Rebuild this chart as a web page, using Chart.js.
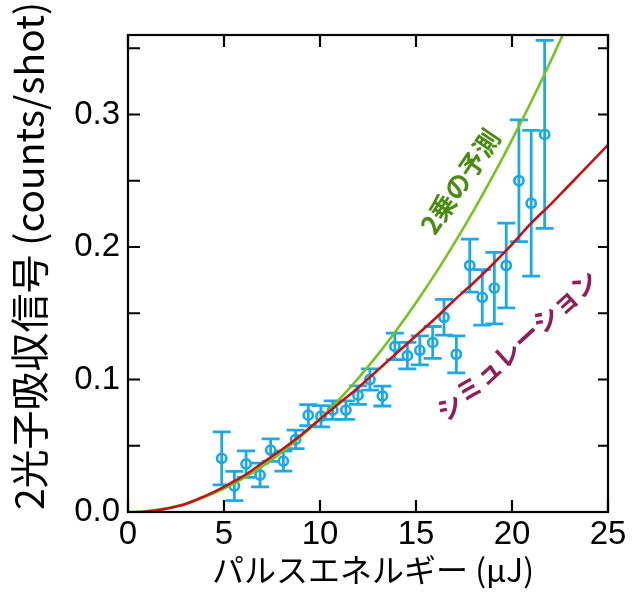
<!DOCTYPE html>
<html>
<head>
<meta charset="utf-8">
<script src="https://cdn.jsdelivr.net/npm/chart.js@4"></script>
<style>
    html, body { margin: 0; padding: 0; background: #fff; }
    canvas { display: block; }
</style>
</head>
<body>
<canvas id="chart" width="640" height="602"></canvas>
<script>
// measured points (pulse energy in uJ, signal in counts/shot, +/- error)
const energy = [4.88, 5.54, 6.15, 6.88, 7.43, 8.09, 8.73, 9.39, 10.05, 10.66, 11.35, 11.98, 12.6, 13.25,
    13.9, 14.55, 15.2, 15.87, 16.46, 17.1, 17.8, 18.45, 19.08, 19.7, 20.36, 21.0, 21.7];
const signal = [0.0405, 0.0196, 0.0362, 0.0279, 0.0467, 0.0384, 0.0548, 0.0731, 0.0723, 0.0769, 0.0769, 0.0882, 0.1, 0.0875,
    0.125, 0.118, 0.122, 0.128, 0.147, 0.119, 0.186, 0.162, 0.169, 0.186, 0.25, 0.233, 0.285];
const signalErr = [0.02, 0.011, 0.01, 0.009, 0.0085, 0.0075, 0.007, 0.008, 0.008, 0.007, 0.007, 0.007, 0.008, 0.0075,
    0.01, 0.01, 0.011, 0.012, 0.0135, 0.014, 0.02, 0.021, 0.027, 0.032, 0.046, 0.055, 0.071];

// quadratic prediction curve
const quadX = [0, 1, 2, 3, 4, 5, 6, 7, 8, 9, 10, 11, 12, 13, 14, 15, 16, 17, 18, 19, 20, 21, 22, 23];
const quadY = [0, 0.0007, 0.0028, 0.0063, 0.0112, 0.0176, 0.0253, 0.0344, 0.0449, 0.0569, 0.0702, 0.0849,
    0.1011, 0.1186, 0.1376, 0.158, 0.1797, 0.2029, 0.2274, 0.2534, 0.2808, 0.3096, 0.3398, 0.3713];

// simulation curve
const simX = [0.8, 2, 3, 4, 5, 6, 7, 8, 9, 10, 11, 12, 13, 14, 15, 16, 17, 18, 19, 20, 21, 22, 23, 24, 25];
const simY = [0, 0.0025, 0.006, 0.012, 0.019, 0.027, 0.037, 0.047, 0.058, 0.07, 0.082, 0.094, 0.107, 0.12,
    0.133, 0.146, 0.16, 0.173, 0.187, 0.202, 0.218, 0.232, 0.247, 0.262, 0.277];

const xTicks = [0, 5, 10, 15, 20, 25];
const yTicks = [0, 0.1, 0.2, 0.3];
const yMinorTicks = [0.05, 0.15, 0.25, 0.35];

const xTitle = 'パルスエネルギー (µJ)';
const yTitle = '2光子吸収信号 (counts/shot)';
const quadLabel = '2乗の予測';
const simLabel = 'シミュレーション';

const cyan = '#1ea8e8';
const green = '#76c41e';
const red = '#c0141a';

const zip = (xs, ys) => xs.map((x, i) => ({ x: x, y: ys[i] }));

const framePlugin = {
    id: 'frame',
    beforeDatasetsDraw(chart) {
        // error bars under the circles
        const { ctx, scales: { x, y } } = chart;
        ctx.save();
        ctx.strokeStyle = cyan;
        ctx.lineWidth = 2.8;
        energy.forEach((e, i) => {
            const px = x.getPixelForValue(e);
            const top = y.getPixelForValue(signal[i] + signalErr[i]);
            const bot = y.getPixelForValue(signal[i] - signalErr[i]);
            ctx.beginPath();
            ctx.moveTo(px, top); ctx.lineTo(px, bot);
            ctx.moveTo(px - 9, top); ctx.lineTo(px + 9, top);
            ctx.moveTo(px - 9, bot); ctx.lineTo(px + 9, bot);
            ctx.stroke();
        });
        ctx.restore();
    },
    afterDatasetsDraw(chart) {
        const { ctx, chartArea: a, scales: { x, y } } = chart;
        ctx.save();
        ctx.strokeStyle = '#000';
        ctx.lineWidth = 2.2;
        ctx.strokeRect(a.left, a.top, a.right - a.left, a.bottom - a.top);
        ctx.beginPath();
        xTicks.forEach(v => {
            const px = x.getPixelForValue(v);
            ctx.moveTo(px, a.bottom); ctx.lineTo(px, a.bottom - 12);
            ctx.moveTo(px, a.top); ctx.lineTo(px, a.top + 12);
        });
        yTicks.concat(yMinorTicks).forEach(v => {
            const py = y.getPixelForValue(v);
            if (py < a.top) return;
            ctx.moveTo(a.left, py); ctx.lineTo(a.left + 12, py);
            ctx.moveTo(a.right, py); ctx.lineTo(a.right - 10, py);
        });
        ctx.stroke();

        // curve labels
        ctx.font = 'bold 26px "Noto Sans CJK JP"';
        ctx.textAlign = 'center';
        ctx.textBaseline = 'middle';
        ctx.fillStyle = '#4a8c12';
        ctx.save();
        ctx.translate(x.getPixelForValue(17.3), y.getPixelForValue(0.2494));
        ctx.rotate(-56 * Math.PI / 180);
        ctx.fillText(quadLabel, 0, 0);
        ctx.restore();

        ctx.font = 'bold 26px "Noto Sans CJK JP"';
        ctx.fillStyle = '#8e1f5a';
        ctx.save();
        ctx.translate(x.getPixelForValue(20.25), y.getPixelForValue(0.126));
        ctx.rotate(-42.5 * Math.PI / 180);
        ctx.fillText(simLabel, 0, 0);
        ctx.restore();

        // axis titles
        ctx.fillStyle = '#000';
        ctx.font = '32px "Noto Sans CJK JP"';
        ctx.fillText(xTitle, 373, 570);
        ctx.save();
        ctx.translate(29, 256);
        ctx.rotate(-Math.PI / 2);
        ctx.font = '39px "Noto Sans CJK JP"';
        ctx.fillText(yTitle, 0, 0);
        ctx.restore();
        ctx.restore();
    }
};

new Chart(document.getElementById('chart'), {
    type: 'scatter',
    data: {
        datasets: [{
            label: 'simulation',
            type: 'line',
            data: zip(simX, simY),
            borderColor: red,
            borderWidth: 2.6,
            pointRadius: 0,
            cubicInterpolationMode: 'monotone',
            order: 1
        }, {
            label: 'quadratic',
            type: 'line',
            data: zip(quadX, quadY),
            borderColor: green,
            borderWidth: 2.6,
            pointRadius: 0,
            cubicInterpolationMode: 'monotone',
            order: 2
        }, {
            label: 'measured',
            data: zip(energy, signal),
            pointStyle: 'circle',
            pointRadius: 4.6,
            pointBorderWidth: 2.7,
            borderColor: cyan,
            backgroundColor: 'rgba(0,0,0,0)',
            order: 3
        }]
    },
    options: {
        responsive: false,
        animation: false,
        devicePixelRatio: 1,
        layout: { padding: { left: 0, top: 35, right: 32, bottom: 0 } },
        plugins: {
            legend: { display: false },
            tooltip: { enabled: false }
        },
        scales: {
            x: {
                type: 'linear',
                min: 0,
                max: 25,
                afterFit: (scale) => { scale.height = 90; },
                afterBuildTicks: (scale) => { scale.ticks = xTicks.map(v => ({ value: v })); },
                grid: { display: false, drawTicks: false },
                border: { display: false },
                ticks: {
                    padding: 3,
                    color: '#000',
                    font: { family: 'Liberation Sans', size: 33 }
                }
            },
            y: {
                type: 'linear',
                min: 0,
                max: 0.36,
                afterFit: (scale) => { scale.width = 128; },
                afterBuildTicks: (scale) => { scale.ticks = yTicks.map(v => ({ value: v })); },
                grid: { display: false, drawTicks: false },
                border: { display: false },
                ticks: {
                    padding: 8,
                    color: '#000',
                    font: { family: 'Liberation Sans', size: 33 },
                    callback: (v) => v.toFixed(1)
                }
            }
        }
    },
    plugins: [framePlugin]
});
</script>
</body>
</html>
